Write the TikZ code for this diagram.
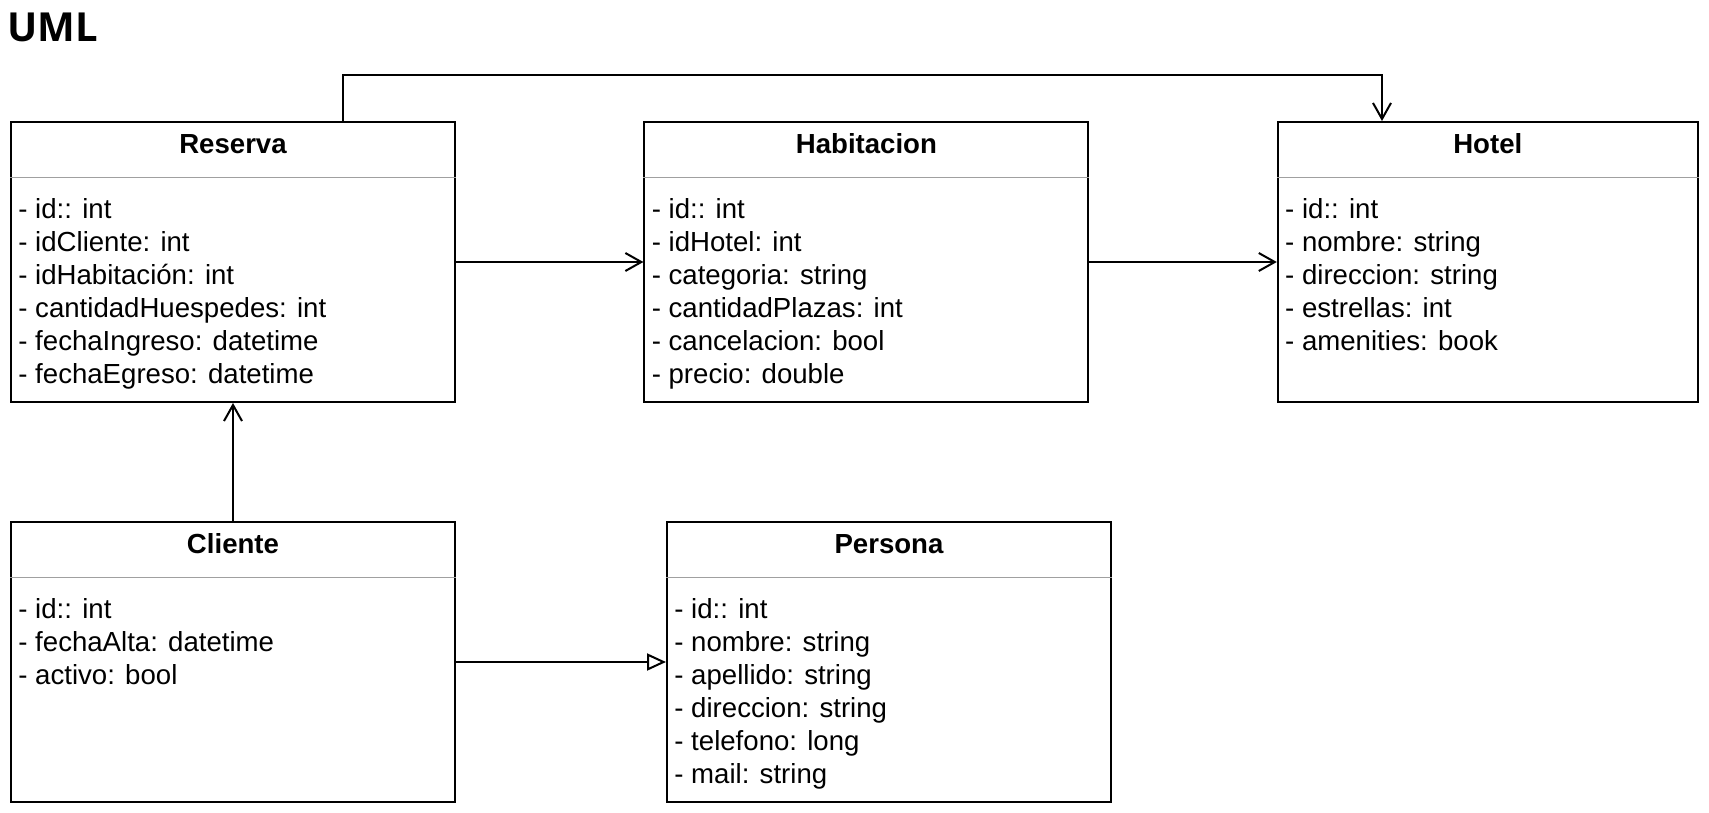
\documentclass[tikz,border=0pt]{standalone}
\usepackage{fontspec}
\setmainfont{Liberation Sans}
\newfontfamily\headfont{Open Sans}
\usetikzlibrary{arrows.meta,positioning}
\definecolor{divgray}{RGB}{160,160,160}

\begin{document}
\begin{tikzpicture}[
    node distance=59pt and 93.7pt,
    classbox/.style={
        rectangle, draw=black, line width=1pt,
        minimum width=222pt, minimum height=140pt, inner sep=0pt
    },
    classname/.style={
        anchor=base, inner sep=0pt,
        font=\fontsize{13.8pt}{16.5pt}\selectfont\bfseries
    },
    attrs/.style={
        anchor=north west, align=left, inner sep=0pt,
        font=\fontsize{13.8pt}{16.45pt}\selectfont
    },
    divider/.style={draw=divgray, line width=0.8pt},
    assoc/.style={-{Straight Barb[length=8pt,width=9pt]}, line width=1pt},
    inherit/.style={-{Triangle[open,length=9.5pt,width=8.5pt,fill=white]}, line width=1pt}
]
\useasboundingbox (0,0) rectangle (854.5pt,-406.5pt);

\node[anchor=base west, inner sep=0pt, font=\headfont\fontsize{20pt}{24pt}\selectfont\bfseries] (uml) at (3.4pt,-21pt) {UML};

% classes
\node[classbox] (reserva) at (116.5pt,-131pt) {};
\node[classbox, right=of reserva] (habitacion) {};
\node[classbox, right=of habitacion, minimum width=210pt] (hotel) {};
\node[classbox, below=of reserva] (cliente) {};
\node[classbox, right=105pt of cliente] (persona) {};

\node[classname] (reserva-name) at ([yshift=-16.3pt]reserva.north) {Reserva};
\node[classname] (habitacion-name) at ([yshift=-16.3pt]habitacion.north) {Habitacion};
\node[classname] (hotel-name) at ([yshift=-16.3pt]hotel.north) {Hotel};
\node[classname] (cliente-name) at ([yshift=-16.3pt]cliente.north) {Cliente};
\node[classname] (persona-name) at ([yshift=-16.3pt]persona.north) {Persona};

\node[attrs] (reserva-attrs) at ([xshift=4pt,yshift=-38.6pt]reserva.north west)
    {- id:: int\\- idCliente: int\\- idHabitación: int\\- cantidadHuespedes: int\\- fechaIngreso: datetime\\- fechaEgreso: datetime};
\node[attrs] (habitacion-attrs) at ([xshift=4pt,yshift=-38.6pt]habitacion.north west)
    {- id:: int\\- idHotel: int\\- categoria: string\\- cantidadPlazas: int\\- cancelacion: bool\\- precio: double};
\node[attrs] (hotel-attrs) at ([xshift=4pt,yshift=-38.6pt]hotel.north west)
    {- id:: int\\- nombre: string\\- direccion: string\\- estrellas: int\\- amenities: book};
\node[attrs] (cliente-attrs) at ([xshift=4pt,yshift=-38.6pt]cliente.north west)
    {- id:: int\\- fechaAlta: datetime\\- activo: bool};
\node[attrs] (persona-attrs) at ([xshift=4pt,yshift=-38.6pt]persona.north west)
    {- id:: int\\- nombre: string\\- apellido: string\\- direccion: string\\- telefono: long\\- mail: string};

\foreach \c in {reserva,habitacion,hotel,cliente,persona}
    \draw[divider] ([yshift=-28.2pt]\c.north west) -- ([yshift=-28.2pt]\c.north east);

% relations
\draw[assoc] ([xshift=55pt]reserva.north) -- ++(0,23pt) -| ([xshift=-52.9pt]hotel.north);
\draw[assoc] (reserva) -- (habitacion);
\draw[assoc] (habitacion) -- (hotel);
\draw[assoc] (cliente) -- (reserva);
\draw[inherit] (cliente) -- (persona);
\end{tikzpicture}
\end{document}
